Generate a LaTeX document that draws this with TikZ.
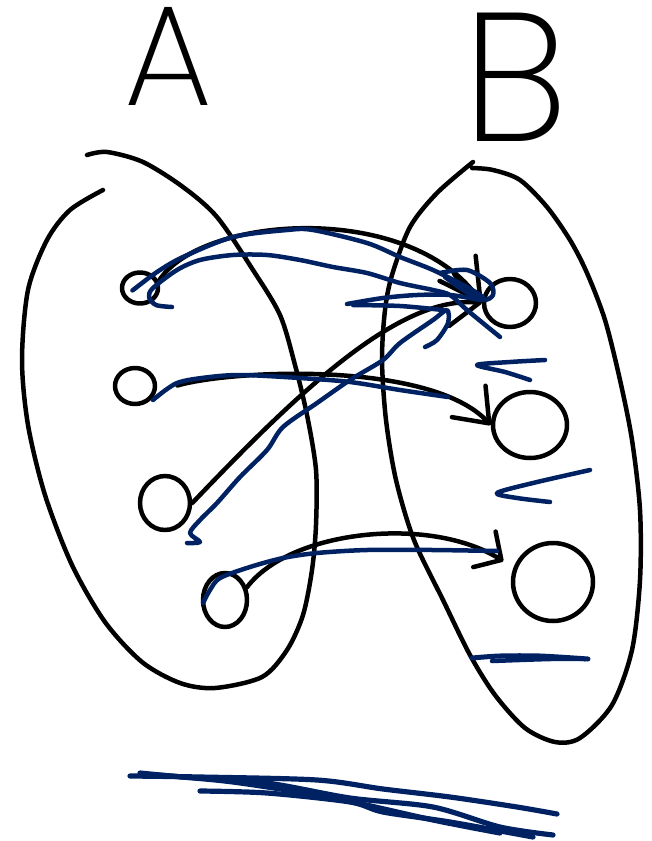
\documentclass[tikz,border=0pt]{standalone}
\usepackage{fontspec}
\IfFontExistsTF{Poppins ExtraLight}{\newfontfamily\handfont{Poppins ExtraLight}}{%
  \IfFontExistsTF{Poppins Light}{\newfontfamily\handfont{Poppins Light}}{%
    \newfontfamily\handfont{Liberation Sans}}}
\usetikzlibrary{shapes.geometric,arrows.meta}
\definecolor{ink}{RGB}{0,0,0}
\definecolor{navy}{RGB}{0,34,98}
\tikzset{
  pen/.style={line width=4.5pt, line cap=round, line join=round, draw=ink},
  bluepen/.style={line width=4.5pt, line cap=round, line join=round, draw=navy},
  elem/.style={pen, ellipse, inner sep=0pt},
  arr/.style={pen},
  letter/.style={inner sep=0pt, text=ink, anchor=base},
}
\begin{document}
\begin{tikzpicture}[x=1pt,y=1pt]
\useasboundingbox (0,0) rectangle (651,-841);

% set labels
\node[letter, font=\handfont\fontsize{143}{143}\selectfont, xscale=0.98] (labelA) at (168,-105) {A};
\node[letter, font=\handfont\fontsize{183}{183}\selectfont, xscale=1.0] (labelB) at (515,-141) {B};

% set outlines
\draw[pen] plot[smooth] coordinates {(87,-155) (107,-152) (143,-162) (183,-187) (217,-217) (253,-270) (280,-315) (295,-365) (307,-415) (316,-470) (316,-525) (312,-570) (303,-615) (287,-650) (262,-677) (215,-688) (180,-683) (142,-662) (105,-622) (72,-565) (45,-495) (28,-425) (22,-360) (28,-290) (47,-240) (70,-210) (103,-190)};
\draw[pen] plot[smooth] coordinates {(472,-168) (493,-170) (520,-180) (547,-207) (570,-240) (587,-273) (605,-320) (620,-380) (632,-440) (640,-510) (640,-580) (632,-650) (612,-705) (580,-738) (555,-742) (525,-728) (495,-695) (470,-655) (443,-600) (414,-540) (396,-480) (386,-420) (382,-360) (385,-310) (392,-275) (410,-227) (437,-193) (473,-162)};

% elements
\node[elem, minimum width=36pt, minimum height=31pt] (a1) at (140,-288) {};
\node[elem, minimum width=40pt, minimum height=36pt] (a2) at (135,-386) {};
\node[elem, minimum width=50pt, minimum height=54pt] (a3) at (165,-503) {};
\node[elem, minimum width=44pt, minimum height=54pt] (a4) at (225,-600) {};
\node[elem, minimum width=52pt, minimum height=48pt] (b1) at (510,-303) {};
\node[elem, minimum width=74pt, minimum height=66pt] (b2) at (530,-425) {};
\node[elem, minimum width=80pt, minimum height=78pt] (b3) at (553,-582) {};

% black arrows
\draw[arr, -{Straight Barb[length=40pt,width=44pt,round]}] (a1.20) .. controls (200,-215) and (410,-200) .. (b1.west);
\draw[arr, -{Straight Barb[length=28pt,width=52pt,round]}] (a3.east) .. controls (300,-390) and (400,-295) .. (b1.west);
\draw[arr, shorten <=22pt, -{Straight Barb[length=30pt,width=46pt,round]}] (a2.-15) .. controls (230,-370) and (430,-360) .. (b2.west);
\draw[arr, shorten >=12pt, -{Straight Barb[length=20pt,width=42pt,round]}] (a4.30) .. controls (290,-530) and (430,-515) .. (b3.160);

% blue traces
\draw[bluepen] plot[smooth] coordinates {(137,-287) (133,-290) (157,-272) (183,-257) (233,-237) (287,-230) (313,-230) (367,-243) (400,-257) (433,-270) (467,-287) (483,-297)};
\draw[bluepen] plot[smooth] coordinates {(172,-307) (156,-305) (149,-297) (153,-288) (177,-270) (200,-260) (233,-255) (267,-255) (300,-260) (333,-267) (367,-273) (400,-283) (433,-290) (450,-295) (467,-310) (500,-337)};
\draw[bluepen] plot[smooth] coordinates {(440,-273) (467,-270) (490,-283) (493,-295) (483,-300) (463,-290) (445,-277)};
\draw[bluepen] plot[smooth] coordinates {(347,-304) (383,-298) (417,-295) (450,-295) (480,-300)};
\draw[bluepen] plot[smooth] coordinates {(187,-543) (200,-542) (190,-533) (200,-520) (217,-503) (240,-477) (267,-450) (283,-427) (317,-403) (350,-380) (383,-360) (400,-343) (433,-320) (447,-310) (448,-323) (437,-340) (425,-347)};
\draw[bluepen] plot[smooth] coordinates {(353,-305) (400,-306) (443,-310)};
\draw[bluepen] plot[smooth] coordinates {(153,-400) (177,-383) (210,-377) (243,-375) (300,-378) (350,-382) (400,-390) (448,-397)};
\draw[bluepen] plot[smooth] coordinates {(203,-603) (210,-590) (220,-578) (250,-567) (283,-558) (317,-553) (367,-550) (433,-550) (497,-551)};

% blue marks in B
\draw[bluepen] plot[smooth] coordinates {(545,-360) (510,-362) (477,-365) (505,-372) (530,-380)};
\draw[bluepen] plot[smooth] coordinates {(590,-470) (533,-483) (497,-493) (517,-498) (550,-502)};
\draw[bluepen, line width=5pt] plot[smooth] coordinates {(472,-658) (500,-656) (540,-656) (588,-659)};
\draw[bluepen] plot[smooth] coordinates {(492,-661) (550,-659) (585,-659)};

% bottom scribble
\draw[bluepen, line width=5.2pt] plot[smooth] coordinates {(130,-776) (200,-777) (317,-780) (383,-789) (450,-797) (517,-807) (557,-814)};
\draw[bluepen, line width=5.2pt] plot[smooth] coordinates {(140,-773) (183,-777) (267,-783) (350,-798) (433,-807) (500,-827) (553,-835)};
\draw[bluepen, line width=5.2pt] plot[smooth] coordinates {(200,-791) (267,-793) (350,-802) (383,-812) (450,-822) (533,-837)};
\draw[bluepen, line width=5.2pt] plot[smooth] coordinates {(157,-775) (233,-782) (333,-798) (433,-820) (500,-833)};
\end{tikzpicture}
\end{document}
